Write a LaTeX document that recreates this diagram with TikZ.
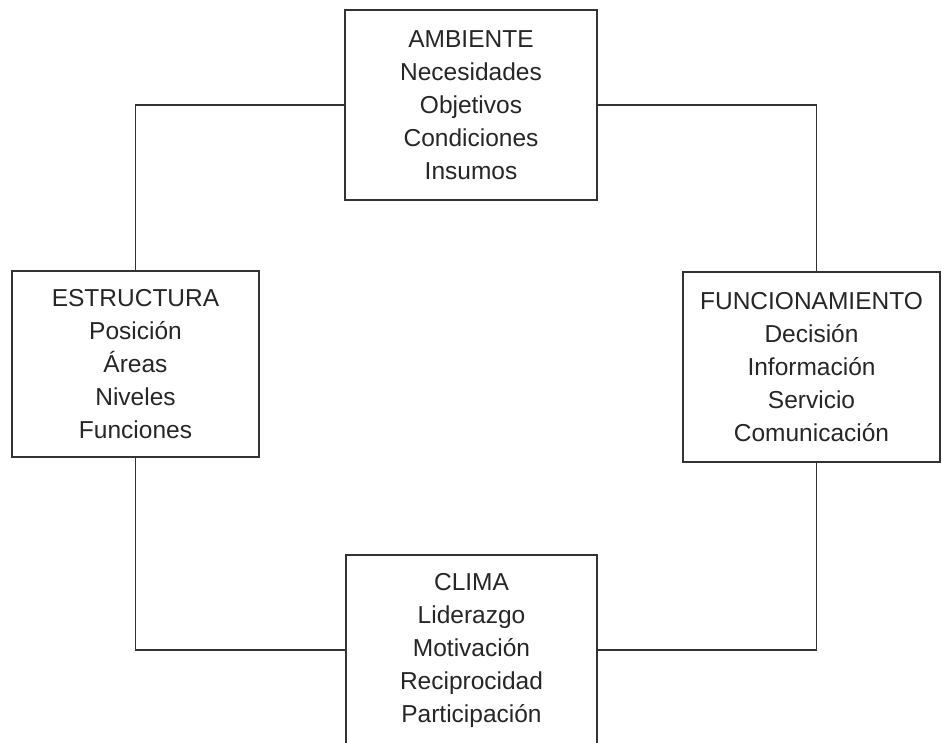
\documentclass[tikz,border=0pt]{standalone}
\usepackage{fontspec}
\setmainfont{Liberation Sans}
\usepackage{xcolor}

\begin{document}
\begin{tikzpicture}[x=1pt, y=-1pt]
\tikzset{
    mybox/.style={rectangle, draw=black!80, line width=1.2pt, inner sep=0pt, text=black!85, align=center, font=\fontsize{24.5}{33}\selectfont},
    myline/.style={draw=black!80, line width=1.2pt}
}
\useasboundingbox (0,0) rectangle (942,742);
\clip (0,0) rectangle (942,742);

\node[mybox, minimum width=252pt, minimum height=190pt] (ambiente) at (471,105)
    {AMBIENTE\\Necesidades\\Objetivos\\Condiciones\\Insumos};
\node[mybox, minimum width=247pt, minimum height=186pt] (estructura) at (135.5,364)
    {ESTRUCTURA\\Posición\\Áreas\\Niveles\\Funciones};
\node[mybox, minimum width=257pt, minimum height=190pt] (funcionamiento) at (811.5,367)
    {FUNCIONAMIENTO\\Decisión\\Información\\Servicio\\Comunicación};
\node[mybox, minimum width=251pt, minimum height=190pt] (clima) at (471.5,650)
    {CLIMA\\Liderazgo\\Motivación\\Reciprocidad\\Participación};
% the boxes are joined in a ring

\draw[myline] (ambiente.west) -| (estructura.north);
\draw[myline] (ambiente.east) -| ([xshift=5pt]funcionamiento.north);
\draw[myline] (estructura.south) |- (clima.west);
\draw[myline] ([xshift=5pt]funcionamiento.south) |- (clima.east);

\end{tikzpicture}
\end{document}
